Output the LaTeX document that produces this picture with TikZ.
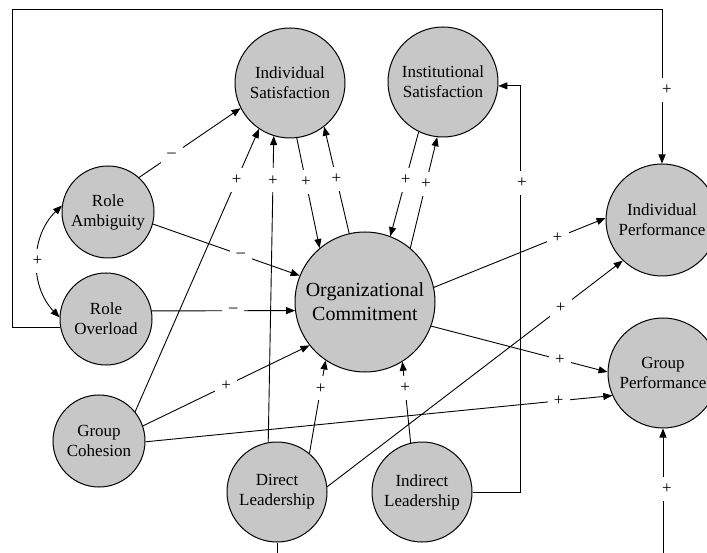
\documentclass[tikz,border=0pt]{standalone}
\usepackage{fontspec}
\setmainfont{Liberation Serif}
\usetikzlibrary{arrows.meta}
\begin{document}
\begin{tikzpicture}[x=1pt,y=-1pt,
  var/.style={circle,draw,line width=1pt,fill=black!22,inner sep=0pt,align=center,font=\fontsize{17}{20}\selectfont},
  big/.style={var,font=\fontsize{20}{24}\selectfont},
  arr/.style={line width=0.9pt,-{Triangle[length=9pt,width=7pt]}},
  both/.style={line width=0.9pt,{Triangle[length=9pt,width=7pt]}-{Triangle[length=9pt,width=7pt]}},
  lbl/.style={fill=white,inner sep=0pt,minimum width=22pt,minimum height=24pt,font=\fontsize{17}{17}\selectfont}]
\useasboundingbox (0,0) rectangle (707,553);
\clip (0,0) rectangle (707,553);
\fill[white] (0,0) rectangle (707,553);

\node[var,minimum size=110pt] (IS) at (290,83) {Individual\\Satisfaction};
\node[var,minimum size=110pt] (InS) at (443,82) {Institutional\\Satisfaction};
\node[var,minimum size=112pt] (IP) at (662,220) {Individual\\Performance};
\node[var,minimum size=110pt] (GP) at (663,373) {Group\\Performance};
\node[var,minimum size=92pt] (RA) at (108,212) {Role\\Ambiguity};
\node[var,minimum size=92pt] (RO) at (106,319) {Role\\Overload};
\node[var,minimum size=92pt] (GC) at (99,441) {Group\\Cohesion};
\node[var,minimum size=100pt] (DL) at (277,492) {Direct\\Leadership};
\node[var,minimum size=100pt] (IL) at (422,492) {Indirect\\Leadership};
\node[big,minimum size=140pt] (OC) at (365,302) {Organizational\\Commitment};

\draw[arr] (RA.48) -- node[lbl,pos=0.32]{--} (IS.207);
\draw[arr] (RA.-15) -- node[lbl,pos=0.6]{--} (OC.158);
\draw[both] (RA.172) to[bend right=45] node[lbl]{+} (RO.178);
\draw[arr] (RO.10) -- node[lbl,pos=0.57]{--} (OC.187);
\draw[arr] (GC.39) -- node[lbl,pos=0.82]{+} (IS.236);
\draw[arr] (DL.100) -- node[lbl,pos=0.855]{+} (IS.253);
\draw[arr] (IS.277) -- node[lbl,pos=0.4]{+} (OC.130);
\draw[arr] (OC.103) -- node[lbl,pos=0.51]{+} (IS.308);
\draw[arr] (InS.244) -- node[lbl,pos=0.46]{+} (OC.69);
\draw[arr] (OC.50) -- node[lbl,pos=0.58]{+} (InS.264);
\draw[arr] (IL.east) -- (520,492) |- (InS.356);
\node[lbl] (l1) at (522,183) {+};
\draw[arr] (OC.12) -- node[lbl,pos=0.72]{+} (IP.178);
\draw[arr] (DL.6) -- node[lbl,pos=0.79]{+} (IP.226);
\draw[arr] (OC.-20) -- node[lbl,pos=0.73]{+} (GP.179);
\draw[arr] (GC.-1) -- node[lbl,pos=0.885]{+} (GP.204);
\draw[arr] (GC.19) -- node[lbl,pos=0.5]{+} (OC.218);
\draw[arr] (DL.50) -- node[lbl,pos=0.7]{+} (OC.236);
\draw[arr] (IL.103.5) -- node[lbl,pos=0.675]{+} (OC.302);
\draw[arr] (RO.190) -| (12,9) -| (IP.north);
\node[lbl] (l2) at (667,90) {+};
\draw[arr] (DL.south) -- ++(0,20) -| (GP.south);
\node[lbl] (l3) at (667,489) {+};
\end{tikzpicture}
\end{document}
